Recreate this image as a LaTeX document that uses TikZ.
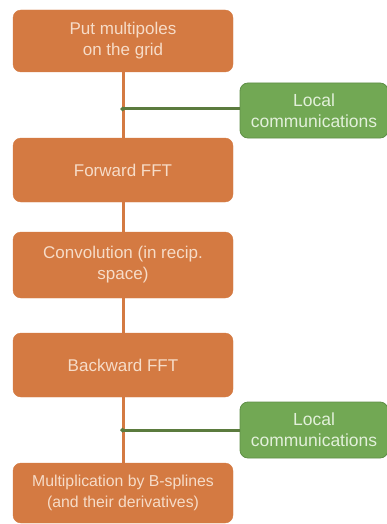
\documentclass[tikz,border=0pt]{standalone}
\usepackage{fontspec}
\setmainfont{Liberation Sans}
\usetikzlibrary{arrows.meta,backgrounds}
\definecolor{orfill}{HTML}{D47A42}
\definecolor{ortext}{HTML}{F6DCC8}
\definecolor{grfill}{HTML}{72A854}
\definecolor{grdraw}{HTML}{5F8F47}
\definecolor{grline}{HTML}{5B7B3E}
\definecolor{grtext}{HTML}{E2F0DA}
\tikzset{
  stepbox/.style={draw=orfill, fill=orfill, rounded corners=8pt, minimum width=220pt,
    text=ortext, align=center, font=\fontsize{17}{21}\selectfont, inner sep=0pt},
  commbox/.style={draw=grdraw, line width=0.8pt, fill=grfill, rounded corners=8pt, minimum width=148pt,
    text=grtext, align=center, font=\fontsize{17.5}{21}\selectfont, inner sep=0pt},
  flowline/.style={draw=orfill, line width=3pt},
  commline/.style={draw=grline, line width=3pt, -{Diamond[length=5pt,width=5pt]}}
}
\begin{document}
\begin{tikzpicture}[x=1pt,y=-1pt]
\useasboundingbox (0,0) rectangle (386,524);
\node[stepbox, minimum height=62pt] (b1) at (123,41) {Put multipoles\\on the grid};
\node[stepbox, minimum height=64pt] (b2) at (123,170) {Forward FFT};
\node[stepbox, minimum height=66pt] (b3) at (123,265) {Convolution (in recip.\\space)};
\node[stepbox, minimum height=64pt] (b4) at (123,365) {Backward FFT};
\node[stepbox, minimum height=60pt, font=\fontsize{15.8}{21}\selectfont] (b5) at (123,493) {Multiplication by B-splines\\(and their derivatives)};
\node[commbox, minimum height=55pt] (g1) at (314,110.5) {Local\\communications};
\node[commbox, minimum height=56pt] (g2) at (314,430) {Local\\communications};
\coordinate (j1) at (120,109);
\coordinate (j2) at (120,430);
\begin{scope}[on background layer]
\draw[flowline] (b1.south) -- (b2.north);
\draw[flowline] (b2.south) -- (b3.north);
\draw[flowline] (b3.south) -- (b4.north);
\draw[flowline] (b4.south) -- (b5.north);
\end{scope}
\draw[commline] (g1.west |- j1) -- (j1);
\draw[commline] (g2.west |- j2) -- (j2);
\end{tikzpicture}
\end{document}
